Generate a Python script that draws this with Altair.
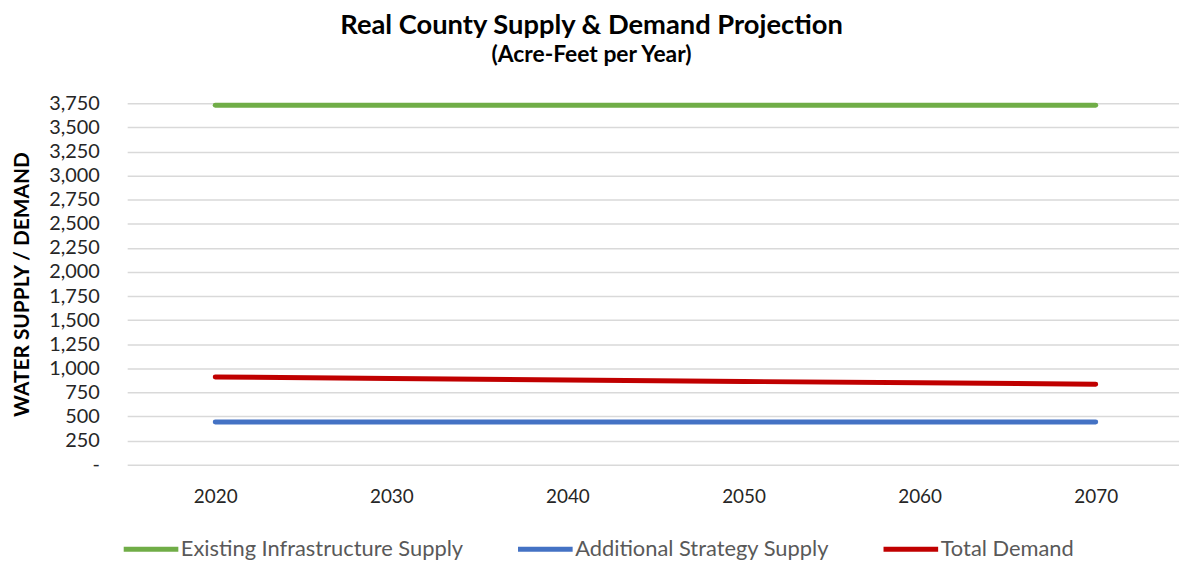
import altair as alt
import pandas as pd

years = [2020, 2030, 2040, 2050, 2060, 2070]
existing_supply = [3730, 3730, 3730, 3730, 3730, 3730]
strategy_supply = [443, 443, 443, 443, 443, 443]
total_demand = [911, 895, 879, 864, 850, 836]

series_names = ["Existing Infrastructure Supply", "Additional Strategy Supply", "Total Demand"]
series_colors = ["#70AD47", "#4472C4", "#C00000"]

rows = []
for name, vals in zip(series_names, [existing_supply, strategy_supply, total_demand]):
    for y, v in zip(years, vals):
        rows.append({"Year": y, "Value": v, "Series": name})
df = pd.DataFrame(rows)

FONT = "Lato"

chart = alt.Chart(df).mark_line(strokeWidth=5, strokeCap="round").encode(
    x=alt.X("Year:Q",
            scale=alt.Scale(domain=[2015, 2074.73], nice=False, zero=False),
            axis=alt.Axis(values=years, format="d", title=None, grid=False, domain=False,
                          ticks=False, labelFontSize=19, labelFont=FONT, labelColor="#262626",
                          labelPadding=23, labelFlush=False)),
    y=alt.Y("Value:Q",
            scale=alt.Scale(domain=[0, 3750], nice=False),
            axis=alt.Axis(values=list(range(0, 3751, 250)), title="WATER SUPPLY / DEMAND",
                          labelExpr="datum.value == 0 ? '-\u00a0\u00a0\u00a0' : format(datum.value, ',')",
                          grid=True, gridColor="#D9D9D9", gridWidth=1.5,
                          domain=False, ticks=False, labelFontSize=20, labelFont=FONT,
                          labelColor="#262626", labelPadding=28,
                          titleFont=FONT, titleFontSize=21, titleFontWeight="bold",
                          titleColor="#000000", titleX=-105.5, titleY=182,
                          titleAlign="center", titleBaseline="middle", titleAngle=270)),
    color=alt.Color("Series:N",
                    scale=alt.Scale(domain=series_names, range=series_colors),
                    sort=series_names,
                    legend=alt.Legend(title=None, orient="none", legendX=-6, legendY=419,
                                      direction="horizontal", columns=3,
                                      symbolType="stroke", symbolSize=3025, symbolStrokeWidth=5,
                                      labelFont=FONT, labelFontSize=22, labelColor="#595959",
                                      labelOffset=0, columnPadding=44, labelLimit=0)),
).properties(
    width=1059,
    height=364,
    autosize=alt.AutoSizeParams(type="none"),
    padding={"left": 120, "top": 94, "right": 0, "bottom": 96},
    title=alt.TitleParams(
        text="Real County Supply & Demand Projection",
        subtitle="(Acre-Feet per Year)",
        font=FONT, fontSize=27.5, fontWeight="bold", color="#000000",
        subtitleFont=FONT, subtitleFontSize=23, subtitleFontWeight="bold",
        subtitleColor="#000000", anchor="middle", frame="group", dx=-62, offset=27,
        subtitlePadding=4,
    ),
).configure_view(stroke=None)

chart.save("out.html", embed_options={"renderer": "svg", "actions": False})
